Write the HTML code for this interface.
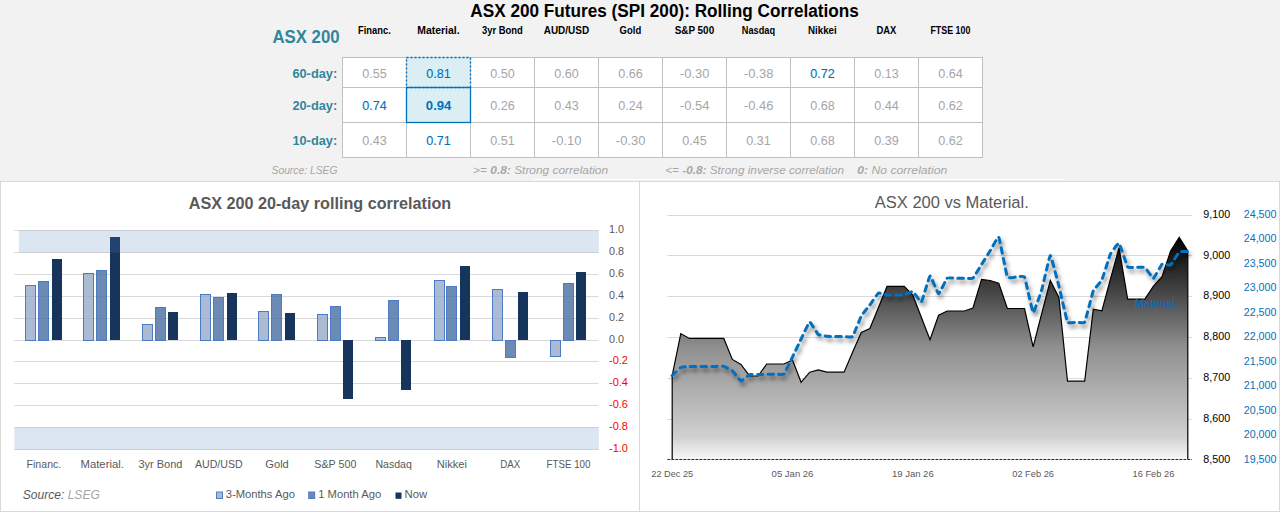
<!DOCTYPE html>
<html><head><meta charset="utf-8"><title>ASX 200 Rolling Correlations</title>
<style>html,body{margin:0;padding:0;background:#fff;width:1280px;height:512px;overflow:hidden;font-family:"Liberation Sans",sans-serif;}</style>
</head><body>
<svg width="1280" height="512" viewBox="0 0 1280 512" style="display:block;font-family:'Liberation Sans', sans-serif"><rect x="0" y="0" width="1280" height="512" fill="#ffffff"/>
<rect x="0" y="0" width="1280" height="181" fill="#f2f2f2"/>
<rect x="534" y="179" width="531" height="1" fill="#ffffff"/>
<text x="470.30" y="16.80" font-size="18.70" fill="#000000" text-anchor="start" font-weight="bold" font-style="normal" textLength="388.50" lengthAdjust="spacingAndGlyphs">ASX 200 Futures (SPI 200): Rolling Correlations</text>
<text x="272.40" y="42.80" font-size="18.55" fill="#31869b" text-anchor="start" font-weight="bold" font-style="normal" textLength="67.20" lengthAdjust="spacingAndGlyphs">ASX 200</text>
<text x="374.40" y="34.00" font-size="10.14" fill="#000000" text-anchor="middle" font-weight="bold" font-style="normal" textLength="32.70" lengthAdjust="spacingAndGlyphs">Financ.</text>
<text x="438.40" y="34.00" font-size="10.14" fill="#000000" text-anchor="middle" font-weight="bold" font-style="normal" textLength="42.40" lengthAdjust="spacingAndGlyphs">Material.</text>
<text x="502.40" y="34.00" font-size="10.14" fill="#000000" text-anchor="middle" font-weight="bold" font-style="normal" textLength="40.90" lengthAdjust="spacingAndGlyphs">3yr Bond</text>
<text x="566.40" y="34.00" font-size="10.14" fill="#000000" text-anchor="middle" font-weight="bold" font-style="normal" textLength="45.40" lengthAdjust="spacingAndGlyphs">AUD/USD</text>
<text x="630.40" y="34.00" font-size="10.14" fill="#000000" text-anchor="middle" font-weight="bold" font-style="normal" textLength="21.60" lengthAdjust="spacingAndGlyphs">Gold</text>
<text x="694.40" y="34.00" font-size="10.14" fill="#000000" text-anchor="middle" font-weight="bold" font-style="normal" textLength="39.50" lengthAdjust="spacingAndGlyphs">S&amp;P 500</text>
<text x="758.40" y="34.00" font-size="10.14" fill="#000000" text-anchor="middle" font-weight="bold" font-style="normal" textLength="33.20" lengthAdjust="spacingAndGlyphs">Nasdaq</text>
<text x="822.40" y="34.00" font-size="10.14" fill="#000000" text-anchor="middle" font-weight="bold" font-style="normal" textLength="28.70" lengthAdjust="spacingAndGlyphs">Nikkei</text>
<text x="886.40" y="34.00" font-size="10.14" fill="#000000" text-anchor="middle" font-weight="bold" font-style="normal" textLength="19.90" lengthAdjust="spacingAndGlyphs">DAX</text>
<text x="950.40" y="34.00" font-size="10.14" fill="#000000" text-anchor="middle" font-weight="bold" font-style="normal" textLength="40.00" lengthAdjust="spacingAndGlyphs">FTSE 100</text>
<text x="337.20" y="77.80" font-size="13.19" fill="#31869b" text-anchor="end" font-weight="bold" font-style="normal" textLength="44.80" lengthAdjust="spacingAndGlyphs">60-day:</text>
<text x="337.20" y="109.80" font-size="13.19" fill="#31869b" text-anchor="end" font-weight="bold" font-style="normal" textLength="44.80" lengthAdjust="spacingAndGlyphs">20-day:</text>
<text x="337.20" y="145.00" font-size="13.19" fill="#31869b" text-anchor="end" font-weight="bold" font-style="normal" textLength="44.80" lengthAdjust="spacingAndGlyphs">10-day:</text>
<rect x="342.5" y="57.5" width="640" height="99.5" fill="#ffffff"/>
<rect x="406.5" y="57.5" width="64" height="30" fill="#daeef3"/>
<rect x="406.5" y="87.5" width="64" height="35" fill="#daeef3"/>
<line x1="342" y1="57.5" x2="983" y2="57.5" stroke="#c0c0c0" stroke-width="1"/>
<line x1="342" y1="87.5" x2="983" y2="87.5" stroke="#c0c0c0" stroke-width="1"/>
<line x1="342" y1="122.5" x2="983" y2="122.5" stroke="#c0c0c0" stroke-width="1"/>
<line x1="342" y1="157.5" x2="983" y2="157.5" stroke="#c0c0c0" stroke-width="1"/>
<line x1="342.5" y1="57" x2="342.5" y2="157.5" stroke="#c0c0c0" stroke-width="1"/>
<line x1="406.5" y1="57" x2="406.5" y2="157.5" stroke="#c0c0c0" stroke-width="1"/>
<line x1="470.5" y1="57" x2="470.5" y2="157.5" stroke="#c0c0c0" stroke-width="1"/>
<line x1="534.5" y1="57" x2="534.5" y2="157.5" stroke="#c0c0c0" stroke-width="1"/>
<line x1="598.5" y1="57" x2="598.5" y2="157.5" stroke="#c0c0c0" stroke-width="1"/>
<line x1="662.5" y1="57" x2="662.5" y2="157.5" stroke="#c0c0c0" stroke-width="1"/>
<line x1="726.5" y1="57" x2="726.5" y2="157.5" stroke="#c0c0c0" stroke-width="1"/>
<line x1="790.5" y1="57" x2="790.5" y2="157.5" stroke="#c0c0c0" stroke-width="1"/>
<line x1="854.5" y1="57" x2="854.5" y2="157.5" stroke="#c0c0c0" stroke-width="1"/>
<line x1="918.5" y1="57" x2="918.5" y2="157.5" stroke="#c0c0c0" stroke-width="1"/>
<line x1="982.5" y1="57" x2="982.5" y2="157.5" stroke="#c0c0c0" stroke-width="1"/>
<rect x="406.5" y="57.5" width="64" height="30" fill="none" stroke="#0070c0" stroke-width="1.4" stroke-dasharray="2 2"/>
<rect x="406.5" y="87.5" width="64" height="35" fill="none" stroke="#0070c0" stroke-width="1.3"/>
<text x="374.60" y="77.90" font-size="12.75" fill="#a6a6a6" text-anchor="middle" font-weight="normal" font-style="normal" textLength="24.50" lengthAdjust="spacingAndGlyphs">0.55</text>
<text x="438.60" y="77.90" font-size="12.75" fill="#0070c0" text-anchor="middle" font-weight="normal" font-style="normal" textLength="24.50" lengthAdjust="spacingAndGlyphs" stroke="#0070c0" stroke-width="0.1">0.81</text>
<text x="502.60" y="77.90" font-size="12.75" fill="#a6a6a6" text-anchor="middle" font-weight="normal" font-style="normal" textLength="24.50" lengthAdjust="spacingAndGlyphs">0.50</text>
<text x="566.60" y="77.90" font-size="12.75" fill="#a6a6a6" text-anchor="middle" font-weight="normal" font-style="normal" textLength="24.50" lengthAdjust="spacingAndGlyphs">0.60</text>
<text x="630.60" y="77.90" font-size="12.75" fill="#a6a6a6" text-anchor="middle" font-weight="normal" font-style="normal" textLength="24.50" lengthAdjust="spacingAndGlyphs">0.66</text>
<text x="694.60" y="77.90" font-size="12.75" fill="#a6a6a6" text-anchor="middle" font-weight="normal" font-style="normal" textLength="29.50" lengthAdjust="spacingAndGlyphs">-0.30</text>
<text x="758.60" y="77.90" font-size="12.75" fill="#a6a6a6" text-anchor="middle" font-weight="normal" font-style="normal" textLength="29.50" lengthAdjust="spacingAndGlyphs">-0.38</text>
<text x="822.60" y="77.90" font-size="12.75" fill="#0070c0" text-anchor="middle" font-weight="normal" font-style="normal" textLength="24.50" lengthAdjust="spacingAndGlyphs" stroke="#0070c0" stroke-width="0.1">0.72</text>
<text x="886.60" y="77.90" font-size="12.75" fill="#a6a6a6" text-anchor="middle" font-weight="normal" font-style="normal" textLength="24.50" lengthAdjust="spacingAndGlyphs">0.13</text>
<text x="950.60" y="77.90" font-size="12.75" fill="#a6a6a6" text-anchor="middle" font-weight="normal" font-style="normal" textLength="24.50" lengthAdjust="spacingAndGlyphs">0.64</text>
<text x="374.60" y="109.90" font-size="12.75" fill="#0070c0" text-anchor="middle" font-weight="normal" font-style="normal" textLength="24.50" lengthAdjust="spacingAndGlyphs" stroke="#0070c0" stroke-width="0.1">0.74</text>
<text x="438.60" y="109.90" font-size="12.75" fill="#0070c0" text-anchor="middle" font-weight="bold" font-style="normal" textLength="25.50" lengthAdjust="spacingAndGlyphs">0.94</text>
<text x="502.60" y="109.90" font-size="12.75" fill="#a6a6a6" text-anchor="middle" font-weight="normal" font-style="normal" textLength="24.50" lengthAdjust="spacingAndGlyphs">0.26</text>
<text x="566.60" y="109.90" font-size="12.75" fill="#a6a6a6" text-anchor="middle" font-weight="normal" font-style="normal" textLength="24.50" lengthAdjust="spacingAndGlyphs">0.43</text>
<text x="630.60" y="109.90" font-size="12.75" fill="#a6a6a6" text-anchor="middle" font-weight="normal" font-style="normal" textLength="24.50" lengthAdjust="spacingAndGlyphs">0.24</text>
<text x="694.60" y="109.90" font-size="12.75" fill="#a6a6a6" text-anchor="middle" font-weight="normal" font-style="normal" textLength="29.50" lengthAdjust="spacingAndGlyphs">-0.54</text>
<text x="758.60" y="109.90" font-size="12.75" fill="#a6a6a6" text-anchor="middle" font-weight="normal" font-style="normal" textLength="29.50" lengthAdjust="spacingAndGlyphs">-0.46</text>
<text x="822.60" y="109.90" font-size="12.75" fill="#a6a6a6" text-anchor="middle" font-weight="normal" font-style="normal" textLength="24.50" lengthAdjust="spacingAndGlyphs">0.68</text>
<text x="886.60" y="109.90" font-size="12.75" fill="#a6a6a6" text-anchor="middle" font-weight="normal" font-style="normal" textLength="24.50" lengthAdjust="spacingAndGlyphs">0.44</text>
<text x="950.60" y="109.90" font-size="12.75" fill="#a6a6a6" text-anchor="middle" font-weight="normal" font-style="normal" textLength="24.50" lengthAdjust="spacingAndGlyphs">0.62</text>
<text x="374.60" y="144.60" font-size="12.75" fill="#a6a6a6" text-anchor="middle" font-weight="normal" font-style="normal" textLength="24.50" lengthAdjust="spacingAndGlyphs">0.43</text>
<text x="438.60" y="144.60" font-size="12.75" fill="#0070c0" text-anchor="middle" font-weight="normal" font-style="normal" textLength="24.50" lengthAdjust="spacingAndGlyphs" stroke="#0070c0" stroke-width="0.1">0.71</text>
<text x="502.60" y="144.60" font-size="12.75" fill="#a6a6a6" text-anchor="middle" font-weight="normal" font-style="normal" textLength="24.50" lengthAdjust="spacingAndGlyphs">0.51</text>
<text x="566.60" y="144.60" font-size="12.75" fill="#a6a6a6" text-anchor="middle" font-weight="normal" font-style="normal" textLength="29.50" lengthAdjust="spacingAndGlyphs">-0.10</text>
<text x="630.60" y="144.60" font-size="12.75" fill="#a6a6a6" text-anchor="middle" font-weight="normal" font-style="normal" textLength="29.50" lengthAdjust="spacingAndGlyphs">-0.30</text>
<text x="694.60" y="144.60" font-size="12.75" fill="#a6a6a6" text-anchor="middle" font-weight="normal" font-style="normal" textLength="24.50" lengthAdjust="spacingAndGlyphs">0.45</text>
<text x="758.60" y="144.60" font-size="12.75" fill="#a6a6a6" text-anchor="middle" font-weight="normal" font-style="normal" textLength="24.50" lengthAdjust="spacingAndGlyphs">0.31</text>
<text x="822.60" y="144.60" font-size="12.75" fill="#a6a6a6" text-anchor="middle" font-weight="normal" font-style="normal" textLength="24.50" lengthAdjust="spacingAndGlyphs">0.68</text>
<text x="886.60" y="144.60" font-size="12.75" fill="#a6a6a6" text-anchor="middle" font-weight="normal" font-style="normal" textLength="24.50" lengthAdjust="spacingAndGlyphs">0.39</text>
<text x="950.60" y="144.60" font-size="12.75" fill="#a6a6a6" text-anchor="middle" font-weight="normal" font-style="normal" textLength="24.50" lengthAdjust="spacingAndGlyphs">0.62</text>
<text x="271.5" y="174.2" font-size="10.29" fill="#a6a6a6" font-style="italic" textLength="66" lengthAdjust="spacingAndGlyphs">Source: LSEG</text>
<text x="473.1" y="174.2" font-size="10.29" fill="#a6a6a6" font-style="italic" textLength="135" lengthAdjust="spacingAndGlyphs">&gt;= <tspan font-weight="bold">0.8:</tspan>  Strong correlation</text>
<text x="665.2" y="174.2" font-size="10.29" fill="#a6a6a6" font-style="italic" textLength="178.8" lengthAdjust="spacingAndGlyphs">&lt;= <tspan font-weight="bold">-0.8:</tspan>  Strong inverse correlation</text>
<text x="857.25" y="174.2" font-size="10.29" fill="#a6a6a6" font-style="italic" textLength="90" lengthAdjust="spacingAndGlyphs"><tspan font-weight="bold">0:</tspan>  No correlation</text>
<line x1="0" y1="181.5" x2="1280" y2="181.5" stroke="#d9d9d9" stroke-width="1"/>
<line x1="0.5" y1="181" x2="0.5" y2="512" stroke="#d9d9d9" stroke-width="1"/>
<line x1="639.5" y1="181" x2="639.5" y2="512" stroke="#d9d9d9" stroke-width="1"/>
<line x1="1279.5" y1="181" x2="1279.5" y2="512" stroke="#d9d9d9" stroke-width="1"/>
<line x1="0" y1="511.5" x2="1280" y2="511.5" stroke="#d9d9d9" stroke-width="1"/>
<text x="188.75" y="208.60" font-size="16.81" fill="#595959" text-anchor="start" font-weight="bold" font-style="normal" textLength="262.50" lengthAdjust="spacingAndGlyphs">ASX 200 20-day rolling correlation</text>
<line x1="14.2" y1="230.50" x2="598.6" y2="230.50" stroke="#d9d9d9" stroke-width="1"/>
<line x1="14.2" y1="252.50" x2="598.6" y2="252.50" stroke="#d9d9d9" stroke-width="1"/>
<line x1="14.2" y1="274.50" x2="598.6" y2="274.50" stroke="#d9d9d9" stroke-width="1"/>
<line x1="14.2" y1="296.50" x2="598.6" y2="296.50" stroke="#d9d9d9" stroke-width="1"/>
<line x1="14.2" y1="318.50" x2="598.6" y2="318.50" stroke="#d9d9d9" stroke-width="1"/>
<line x1="14.2" y1="340.50" x2="598.6" y2="340.50" stroke="#d9d9d9" stroke-width="1"/>
<line x1="14.2" y1="361.50" x2="598.6" y2="361.50" stroke="#d9d9d9" stroke-width="1"/>
<line x1="14.2" y1="383.50" x2="598.6" y2="383.50" stroke="#d9d9d9" stroke-width="1"/>
<line x1="14.2" y1="405.50" x2="598.6" y2="405.50" stroke="#d9d9d9" stroke-width="1"/>
<line x1="14.2" y1="427.50" x2="598.6" y2="427.50" stroke="#d9d9d9" stroke-width="1"/>
<line x1="14.2" y1="449.50" x2="598.6" y2="449.50" stroke="#d9d9d9" stroke-width="1"/>
<rect x="25.50" y="285.50" width="10.00" height="55.00" fill="#8ea4c4" fill-opacity="0.75" stroke="#4a7bc4" stroke-width="1"/>
<rect x="38.50" y="281.50" width="10.00" height="59.00" fill="#466da1" fill-opacity="0.80" stroke="#4a7bc4" stroke-width="1"/>
<rect x="52.00" y="259.00" width="10.00" height="81.00" fill="#17345c" fill-opacity="1.00"/>
<rect x="83.50" y="273.50" width="10.00" height="67.00" fill="#8ea4c4" fill-opacity="0.75" stroke="#4a7bc4" stroke-width="1"/>
<rect x="96.50" y="270.50" width="10.00" height="70.00" fill="#466da1" fill-opacity="0.80" stroke="#4a7bc4" stroke-width="1"/>
<rect x="110.00" y="237.00" width="10.00" height="103.00" fill="#17345c" fill-opacity="1.00"/>
<rect x="142.50" y="324.50" width="10.00" height="16.00" fill="#8ea4c4" fill-opacity="0.75" stroke="#4a7bc4" stroke-width="1"/>
<rect x="155.50" y="307.50" width="10.00" height="33.00" fill="#466da1" fill-opacity="0.80" stroke="#4a7bc4" stroke-width="1"/>
<rect x="168.00" y="312.00" width="10.00" height="28.00" fill="#17345c" fill-opacity="1.00"/>
<rect x="200.50" y="294.50" width="10.00" height="46.00" fill="#8ea4c4" fill-opacity="0.75" stroke="#4a7bc4" stroke-width="1"/>
<rect x="213.50" y="297.50" width="10.00" height="43.00" fill="#466da1" fill-opacity="0.80" stroke="#4a7bc4" stroke-width="1"/>
<rect x="227.00" y="293.00" width="10.00" height="47.00" fill="#17345c" fill-opacity="1.00"/>
<rect x="258.50" y="311.50" width="10.00" height="29.00" fill="#8ea4c4" fill-opacity="0.75" stroke="#4a7bc4" stroke-width="1"/>
<rect x="271.50" y="294.50" width="10.00" height="46.00" fill="#466da1" fill-opacity="0.80" stroke="#4a7bc4" stroke-width="1"/>
<rect x="285.00" y="313.00" width="10.00" height="27.00" fill="#17345c" fill-opacity="1.00"/>
<rect x="317.50" y="314.50" width="10.00" height="26.00" fill="#8ea4c4" fill-opacity="0.75" stroke="#4a7bc4" stroke-width="1"/>
<rect x="330.50" y="306.50" width="10.00" height="34.00" fill="#466da1" fill-opacity="0.80" stroke="#4a7bc4" stroke-width="1"/>
<rect x="343.00" y="340.00" width="10.00" height="59.00" fill="#17345c" fill-opacity="1.00"/>
<rect x="375.50" y="337.50" width="10.00" height="3.00" fill="#8ea4c4" fill-opacity="0.75" stroke="#4a7bc4" stroke-width="1"/>
<rect x="388.50" y="300.50" width="10.00" height="40.00" fill="#466da1" fill-opacity="0.80" stroke="#4a7bc4" stroke-width="1"/>
<rect x="401.00" y="340.00" width="10.00" height="50.00" fill="#17345c" fill-opacity="1.00"/>
<rect x="434.50" y="280.50" width="10.00" height="60.00" fill="#8ea4c4" fill-opacity="0.75" stroke="#4a7bc4" stroke-width="1"/>
<rect x="446.50" y="286.50" width="10.00" height="54.00" fill="#466da1" fill-opacity="0.80" stroke="#4a7bc4" stroke-width="1"/>
<rect x="460.00" y="266.00" width="10.00" height="74.00" fill="#17345c" fill-opacity="1.00"/>
<rect x="492.50" y="289.50" width="10.00" height="51.00" fill="#8ea4c4" fill-opacity="0.75" stroke="#4a7bc4" stroke-width="1"/>
<rect x="505.50" y="340.50" width="10.00" height="17.00" fill="#466da1" fill-opacity="0.80" stroke="#4a7bc4" stroke-width="1"/>
<rect x="518.00" y="292.00" width="10.00" height="48.00" fill="#17345c" fill-opacity="1.00"/>
<rect x="550.50" y="340.50" width="10.00" height="16.00" fill="#8ea4c4" fill-opacity="0.75" stroke="#4a7bc4" stroke-width="1"/>
<rect x="563.50" y="283.50" width="10.00" height="57.00" fill="#466da1" fill-opacity="0.80" stroke="#4a7bc4" stroke-width="1"/>
<rect x="576.00" y="272.00" width="10.00" height="68.00" fill="#17345c" fill-opacity="1.00"/>
<rect x="18.9" y="230.5" width="579.9" height="22" fill="#5082be" fill-opacity="0.2"/>
<rect x="14.4" y="427.5" width="584.4" height="22" fill="#5082be" fill-opacity="0.2"/>
<text x="609.00" y="233.00" font-size="11.30" fill="#595959" text-anchor="start" font-weight="normal" font-style="normal" textLength="15.00" lengthAdjust="spacingAndGlyphs">1.0</text>
<text x="609.00" y="255.00" font-size="11.30" fill="#595959" text-anchor="start" font-weight="normal" font-style="normal" textLength="15.00" lengthAdjust="spacingAndGlyphs">0.8</text>
<text x="609.00" y="277.00" font-size="11.30" fill="#595959" text-anchor="start" font-weight="normal" font-style="normal" textLength="15.00" lengthAdjust="spacingAndGlyphs">0.6</text>
<text x="609.00" y="299.00" font-size="11.30" fill="#595959" text-anchor="start" font-weight="normal" font-style="normal" textLength="15.00" lengthAdjust="spacingAndGlyphs">0.4</text>
<text x="609.00" y="321.00" font-size="11.30" fill="#595959" text-anchor="start" font-weight="normal" font-style="normal" textLength="15.00" lengthAdjust="spacingAndGlyphs">0.2</text>
<text x="609.00" y="343.00" font-size="11.30" fill="#595959" text-anchor="start" font-weight="normal" font-style="normal" textLength="15.00" lengthAdjust="spacingAndGlyphs">0.0</text>
<text x="609.00" y="364.00" font-size="11.30" fill="#ff0000" text-anchor="start" font-weight="normal" font-style="normal" textLength="19.00" lengthAdjust="spacingAndGlyphs">-0.2</text>
<text x="609.00" y="386.00" font-size="11.30" fill="#ff0000" text-anchor="start" font-weight="normal" font-style="normal" textLength="19.00" lengthAdjust="spacingAndGlyphs">-0.4</text>
<text x="609.00" y="408.00" font-size="11.30" fill="#ff0000" text-anchor="start" font-weight="normal" font-style="normal" textLength="19.00" lengthAdjust="spacingAndGlyphs">-0.6</text>
<text x="609.00" y="430.00" font-size="11.30" fill="#ff0000" text-anchor="start" font-weight="normal" font-style="normal" textLength="19.00" lengthAdjust="spacingAndGlyphs">-0.8</text>
<text x="609.00" y="452.00" font-size="11.30" fill="#ff0000" text-anchor="start" font-weight="normal" font-style="normal" textLength="19.00" lengthAdjust="spacingAndGlyphs">-1.0</text>
<text x="43.90" y="467.75" font-size="11.01" fill="#595959" text-anchor="middle" font-weight="normal" font-style="normal" textLength="34.70" lengthAdjust="spacingAndGlyphs">Financ.</text>
<text x="102.19" y="467.75" font-size="11.01" fill="#595959" text-anchor="middle" font-weight="normal" font-style="normal" textLength="43.30" lengthAdjust="spacingAndGlyphs">Material.</text>
<text x="160.48" y="467.75" font-size="11.01" fill="#595959" text-anchor="middle" font-weight="normal" font-style="normal" textLength="44.00" lengthAdjust="spacingAndGlyphs">3yr Bond</text>
<text x="218.77" y="467.75" font-size="11.01" fill="#595959" text-anchor="middle" font-weight="normal" font-style="normal" textLength="47.70" lengthAdjust="spacingAndGlyphs">AUD/USD</text>
<text x="277.06" y="467.75" font-size="11.01" fill="#595959" text-anchor="middle" font-weight="normal" font-style="normal" textLength="23.50" lengthAdjust="spacingAndGlyphs">Gold</text>
<text x="335.35" y="467.75" font-size="11.01" fill="#595959" text-anchor="middle" font-weight="normal" font-style="normal" textLength="42.10" lengthAdjust="spacingAndGlyphs">S&amp;P 500</text>
<text x="393.64" y="467.75" font-size="11.01" fill="#595959" text-anchor="middle" font-weight="normal" font-style="normal" textLength="36.40" lengthAdjust="spacingAndGlyphs">Nasdaq</text>
<text x="451.93" y="467.75" font-size="11.01" fill="#595959" text-anchor="middle" font-weight="normal" font-style="normal" textLength="30.10" lengthAdjust="spacingAndGlyphs">Nikkei</text>
<text x="510.22" y="467.75" font-size="11.01" fill="#595959" text-anchor="middle" font-weight="normal" font-style="normal" textLength="20.00" lengthAdjust="spacingAndGlyphs">DAX</text>
<text x="568.51" y="467.75" font-size="11.01" fill="#595959" text-anchor="middle" font-weight="normal" font-style="normal" textLength="43.90" lengthAdjust="spacingAndGlyphs">FTSE 100</text>
<rect x="216.5" y="492" width="6" height="6.5" fill="#a9bad2" stroke="#4f7fc0" stroke-width="1"/>
<text x="225.70" y="497.80" font-size="10.87" fill="#595959" text-anchor="start" font-weight="normal" font-style="normal" textLength="69.20" lengthAdjust="spacingAndGlyphs">3-Months Ago</text>
<rect x="308.7" y="492" width="6" height="6.5" fill="#6b8ab3" stroke="#4f7fc0" stroke-width="1"/>
<text x="318.20" y="497.80" font-size="10.87" fill="#595959" text-anchor="start" font-weight="normal" font-style="normal" textLength="63.00" lengthAdjust="spacingAndGlyphs">1 Month Ago</text>
<rect x="395.5" y="492.5" width="6" height="6.3" fill="#17345c"/>
<text x="404.50" y="497.80" font-size="10.87" fill="#595959" text-anchor="start" font-weight="normal" font-style="normal" textLength="22.60" lengthAdjust="spacingAndGlyphs">Now</text>
<text x="22.8" y="498.9" font-size="13.19" font-style="italic" fill="#595959" textLength="77" lengthAdjust="spacingAndGlyphs">Source: <tspan fill="#a6a6a6">LSEG</tspan></text>
<text x="874.80" y="207.50" font-size="16.30" fill="#595959" text-anchor="start" font-weight="normal" font-style="normal" textLength="154.00" lengthAdjust="spacingAndGlyphs">ASX 200 vs Material.</text>
<line x1="667.5" y1="215.50" x2="1192" y2="215.50" stroke="#d9d9d9" stroke-width="1"/>
<line x1="667.5" y1="255.50" x2="1192" y2="255.50" stroke="#d9d9d9" stroke-width="1"/>
<line x1="667.5" y1="296.50" x2="1192" y2="296.50" stroke="#d9d9d9" stroke-width="1"/>
<line x1="667.5" y1="337.50" x2="1192" y2="337.50" stroke="#d9d9d9" stroke-width="1"/>
<line x1="667.5" y1="378.50" x2="1192" y2="378.50" stroke="#d9d9d9" stroke-width="1"/>
<line x1="667.5" y1="419.50" x2="1192" y2="419.50" stroke="#d9d9d9" stroke-width="1"/>
<defs><linearGradient id="ag" x1="0" y1="237" x2="0" y2="459" gradientUnits="userSpaceOnUse"><stop offset="0" stop-color="#000000"/><stop offset="0.25" stop-color="#464646"/><stop offset="0.5" stop-color="#909090"/><stop offset="0.9" stop-color="#d0d0d0"/><stop offset="1" stop-color="#f8f8f8"/></linearGradient><filter id="sh" x="-10%" y="-10%" width="120%" height="130%"><feGaussianBlur stdDeviation="2.2"/></filter></defs>
<path d="M672.20,459.00 L672.20,375.50 L680.79,333.60 L689.39,338.40 L697.98,338.40 L706.57,338.40 L715.17,338.40 L723.76,338.40 L732.35,359.40 L740.95,364.50 L749.54,375.90 L758.13,376.00 L766.73,364.00 L775.32,364.00 L783.91,364.00 L792.51,360.00 L801.10,382.30 L809.69,372.20 L818.29,369.90 L826.88,372.20 L835.47,372.20 L844.07,372.20 L852.66,352.00 L861.25,332.50 L869.85,328.50 L878.44,307.50 L887.03,286.40 L895.63,286.40 L904.22,286.40 L912.81,295.20 L921.41,317.50 L930.00,339.80 L938.59,315.20 L947.19,311.00 L955.78,311.00 L964.37,311.00 L972.97,308.00 L981.56,279.30 L990.15,280.50 L998.75,283.20 L1007.34,308.50 L1015.93,308.50 L1024.53,308.50 L1033.12,346.80 L1041.71,313.50 L1050.31,280.50 L1058.90,297.50 L1067.49,381.20 L1076.09,381.20 L1084.68,381.20 L1093.27,309.20 L1101.87,310.80 L1110.46,279.00 L1119.05,247.60 L1127.65,299.10 L1136.24,299.10 L1144.83,299.10 L1153.43,286.20 L1162.02,276.60 L1170.61,251.10 L1179.21,237.40 L1187.80,251.00 L1187.80,459.00 Z" fill="url(#ag)" stroke="none"/>
<path d="M672.20,459.00 L672.20,375.50 L680.79,333.60 L689.39,338.40 L697.98,338.40 L706.57,338.40 L715.17,338.40 L723.76,338.40 L732.35,359.40 L740.95,364.50 L749.54,375.90 L758.13,376.00 L766.73,364.00 L775.32,364.00 L783.91,364.00 L792.51,360.00 L801.10,382.30 L809.69,372.20 L818.29,369.90 L826.88,372.20 L835.47,372.20 L844.07,372.20 L852.66,352.00 L861.25,332.50 L869.85,328.50 L878.44,307.50 L887.03,286.40 L895.63,286.40 L904.22,286.40 L912.81,295.20 L921.41,317.50 L930.00,339.80 L938.59,315.20 L947.19,311.00 L955.78,311.00 L964.37,311.00 L972.97,308.00 L981.56,279.30 L990.15,280.50 L998.75,283.20 L1007.34,308.50 L1015.93,308.50 L1024.53,308.50 L1033.12,346.80 L1041.71,313.50 L1050.31,280.50 L1058.90,297.50 L1067.49,381.20 L1076.09,381.20 L1084.68,381.20 L1093.27,309.20 L1101.87,310.80 L1110.46,279.00 L1119.05,247.60 L1127.65,299.10 L1136.24,299.10 L1144.83,299.10 L1153.43,286.20 L1162.02,276.60 L1170.61,251.10 L1179.21,237.40 L1187.80,251.00 L1187.80,459.00" fill="none" stroke="#000000" stroke-width="1.2" stroke-linejoin="miter"/>
<line x1="667.5" y1="459.5" x2="1192" y2="459.5" stroke="#c0c0c0" stroke-width="1"/>
<line x1="667.5" y1="459.5" x2="1192" y2="459.5" stroke="#2a2a2a" stroke-width="1" stroke-dasharray="2.5 1.5"/>
<path d="M672.20,375.50 C672.54,375.18 680.11,367.86 680.79,367.50 C681.48,367.14 688.70,366.44 689.39,366.40 C690.07,366.36 697.29,366.40 697.98,366.40 C698.67,366.40 705.89,366.40 706.57,366.40 C707.26,366.40 714.48,366.40 715.17,366.40 C715.85,366.40 723.07,366.22 723.76,366.40 C724.45,366.58 731.67,370.22 732.35,370.80 C733.04,371.38 740.26,380.84 740.95,381.00 C741.63,381.16 748.85,374.96 749.54,374.70 C750.23,374.44 757.45,374.52 758.13,374.50 C758.82,374.48 766.04,374.31 766.73,374.30 C767.41,374.29 774.63,374.21 775.32,374.20 C776.01,374.19 783.23,374.79 783.91,374.10 C784.60,373.41 791.82,358.40 792.51,357.00 C793.19,355.60 800.41,340.40 801.10,339.00 C801.79,337.60 809.01,322.18 809.69,322.00 C810.38,321.82 817.60,333.93 818.29,334.50 C818.97,335.07 826.19,336.12 826.88,336.20 C827.57,336.28 834.79,336.58 835.47,336.60 C836.16,336.62 843.38,336.60 844.07,336.60 C844.75,336.60 851.97,337.42 852.66,336.60 C853.35,335.78 860.57,317.26 861.25,316.00 C861.94,314.74 869.16,305.92 869.85,305.00 C870.53,304.08 877.75,293.40 878.44,293.00 C879.13,292.60 886.35,294.92 887.03,295.00 C887.72,295.08 894.94,295.00 895.63,295.00 C896.31,295.00 903.53,295.14 904.22,295.00 C904.91,294.86 912.13,291.22 912.81,291.50 C913.50,291.78 920.72,302.62 921.41,302.00 C922.09,301.38 929.31,276.33 930.00,276.00 C930.69,275.67 937.91,293.71 938.59,293.80 C939.28,293.89 946.50,278.82 947.19,278.20 C947.87,277.58 955.09,278.20 955.78,278.20 C956.47,278.20 963.69,278.20 964.37,278.20 C965.06,278.20 972.28,278.75 972.97,278.20 C973.65,277.65 980.87,265.60 981.56,264.50 C982.25,263.40 989.47,251.90 990.15,250.80 C990.84,249.70 998.06,236.05 998.75,237.10 C999.43,238.15 1006.65,275.40 1007.34,277.00 C1008.03,278.60 1015.25,277.00 1015.93,277.00 C1016.62,277.00 1023.84,275.58 1024.53,277.00 C1025.21,278.42 1032.43,311.98 1033.12,312.50 C1033.81,313.02 1041.03,292.28 1041.71,290.00 C1042.40,287.72 1049.62,255.56 1050.31,255.40 C1050.99,255.24 1058.21,283.33 1058.90,286.00 C1059.59,288.67 1066.81,320.75 1067.49,322.20 C1068.18,323.65 1075.40,322.20 1076.09,322.20 C1076.77,322.20 1083.99,323.45 1084.68,322.20 C1085.37,320.95 1092.59,292.69 1093.27,291.00 C1093.96,289.31 1101.18,281.48 1101.87,280.00 C1102.55,278.52 1109.77,255.47 1110.46,254.00 C1111.15,252.53 1118.37,242.68 1119.05,243.20 C1119.74,243.72 1126.96,266.03 1127.65,267.00 C1128.33,267.97 1135.55,267.38 1136.24,267.40 C1136.93,267.42 1144.15,266.96 1144.83,267.40 C1145.52,267.84 1152.74,278.42 1153.43,278.30 C1154.11,278.18 1161.33,264.83 1162.02,264.30 C1162.71,263.77 1169.93,265.49 1170.61,265.00 C1171.30,264.51 1178.52,252.54 1179.21,252.00 C1179.89,251.46 1187.46,251.42 1187.80,251.40" fill="none" stroke="#000000" stroke-opacity="0.5" stroke-width="3" stroke-dasharray="5.4 5.3" stroke-linecap="round" transform="translate(2,3.5)" filter="url(#sh)"/>
<path d="M672.20,375.50 C672.54,375.18 680.11,367.86 680.79,367.50 C681.48,367.14 688.70,366.44 689.39,366.40 C690.07,366.36 697.29,366.40 697.98,366.40 C698.67,366.40 705.89,366.40 706.57,366.40 C707.26,366.40 714.48,366.40 715.17,366.40 C715.85,366.40 723.07,366.22 723.76,366.40 C724.45,366.58 731.67,370.22 732.35,370.80 C733.04,371.38 740.26,380.84 740.95,381.00 C741.63,381.16 748.85,374.96 749.54,374.70 C750.23,374.44 757.45,374.52 758.13,374.50 C758.82,374.48 766.04,374.31 766.73,374.30 C767.41,374.29 774.63,374.21 775.32,374.20 C776.01,374.19 783.23,374.79 783.91,374.10 C784.60,373.41 791.82,358.40 792.51,357.00 C793.19,355.60 800.41,340.40 801.10,339.00 C801.79,337.60 809.01,322.18 809.69,322.00 C810.38,321.82 817.60,333.93 818.29,334.50 C818.97,335.07 826.19,336.12 826.88,336.20 C827.57,336.28 834.79,336.58 835.47,336.60 C836.16,336.62 843.38,336.60 844.07,336.60 C844.75,336.60 851.97,337.42 852.66,336.60 C853.35,335.78 860.57,317.26 861.25,316.00 C861.94,314.74 869.16,305.92 869.85,305.00 C870.53,304.08 877.75,293.40 878.44,293.00 C879.13,292.60 886.35,294.92 887.03,295.00 C887.72,295.08 894.94,295.00 895.63,295.00 C896.31,295.00 903.53,295.14 904.22,295.00 C904.91,294.86 912.13,291.22 912.81,291.50 C913.50,291.78 920.72,302.62 921.41,302.00 C922.09,301.38 929.31,276.33 930.00,276.00 C930.69,275.67 937.91,293.71 938.59,293.80 C939.28,293.89 946.50,278.82 947.19,278.20 C947.87,277.58 955.09,278.20 955.78,278.20 C956.47,278.20 963.69,278.20 964.37,278.20 C965.06,278.20 972.28,278.75 972.97,278.20 C973.65,277.65 980.87,265.60 981.56,264.50 C982.25,263.40 989.47,251.90 990.15,250.80 C990.84,249.70 998.06,236.05 998.75,237.10 C999.43,238.15 1006.65,275.40 1007.34,277.00 C1008.03,278.60 1015.25,277.00 1015.93,277.00 C1016.62,277.00 1023.84,275.58 1024.53,277.00 C1025.21,278.42 1032.43,311.98 1033.12,312.50 C1033.81,313.02 1041.03,292.28 1041.71,290.00 C1042.40,287.72 1049.62,255.56 1050.31,255.40 C1050.99,255.24 1058.21,283.33 1058.90,286.00 C1059.59,288.67 1066.81,320.75 1067.49,322.20 C1068.18,323.65 1075.40,322.20 1076.09,322.20 C1076.77,322.20 1083.99,323.45 1084.68,322.20 C1085.37,320.95 1092.59,292.69 1093.27,291.00 C1093.96,289.31 1101.18,281.48 1101.87,280.00 C1102.55,278.52 1109.77,255.47 1110.46,254.00 C1111.15,252.53 1118.37,242.68 1119.05,243.20 C1119.74,243.72 1126.96,266.03 1127.65,267.00 C1128.33,267.97 1135.55,267.38 1136.24,267.40 C1136.93,267.42 1144.15,266.96 1144.83,267.40 C1145.52,267.84 1152.74,278.42 1153.43,278.30 C1154.11,278.18 1161.33,264.83 1162.02,264.30 C1162.71,263.77 1169.93,265.49 1170.61,265.00 C1171.30,264.51 1178.52,252.54 1179.21,252.00 C1179.89,251.46 1187.46,251.42 1187.80,251.40" fill="none" stroke="#0070c0" stroke-width="3" stroke-dasharray="5.4 5.3" stroke-linecap="round"/>
<text x="1134.90" y="306.80" font-size="10.72" fill="#0070c0" text-anchor="start" font-weight="normal" font-style="normal" textLength="43.00" lengthAdjust="spacingAndGlyphs" stroke="#0070c0" stroke-width="0.15">Material.</text>
<text x="1203.30" y="217.70" font-size="10.72" fill="#000000" text-anchor="start" font-weight="normal" font-style="normal" textLength="26.80" lengthAdjust="spacingAndGlyphs">9,100</text>
<text x="1203.30" y="258.55" font-size="10.72" fill="#000000" text-anchor="start" font-weight="normal" font-style="normal" textLength="26.80" lengthAdjust="spacingAndGlyphs">9,000</text>
<text x="1203.30" y="299.40" font-size="10.72" fill="#000000" text-anchor="start" font-weight="normal" font-style="normal" textLength="26.80" lengthAdjust="spacingAndGlyphs">8,900</text>
<text x="1203.30" y="340.25" font-size="10.72" fill="#000000" text-anchor="start" font-weight="normal" font-style="normal" textLength="26.80" lengthAdjust="spacingAndGlyphs">8,800</text>
<text x="1203.30" y="381.10" font-size="10.72" fill="#000000" text-anchor="start" font-weight="normal" font-style="normal" textLength="26.80" lengthAdjust="spacingAndGlyphs">8,700</text>
<text x="1203.30" y="421.95" font-size="10.72" fill="#000000" text-anchor="start" font-weight="normal" font-style="normal" textLength="26.80" lengthAdjust="spacingAndGlyphs">8,600</text>
<text x="1203.30" y="462.80" font-size="10.72" fill="#000000" text-anchor="start" font-weight="normal" font-style="normal" textLength="26.80" lengthAdjust="spacingAndGlyphs">8,500</text>
<text x="1243.80" y="217.70" font-size="10.72" fill="#0070c0" text-anchor="start" font-weight="normal" font-style="normal" textLength="32.60" lengthAdjust="spacingAndGlyphs">24,500</text>
<text x="1243.80" y="242.21" font-size="10.72" fill="#0070c0" text-anchor="start" font-weight="normal" font-style="normal" textLength="32.60" lengthAdjust="spacingAndGlyphs">24,000</text>
<text x="1243.80" y="266.72" font-size="10.72" fill="#0070c0" text-anchor="start" font-weight="normal" font-style="normal" textLength="32.60" lengthAdjust="spacingAndGlyphs">23,500</text>
<text x="1243.80" y="291.23" font-size="10.72" fill="#0070c0" text-anchor="start" font-weight="normal" font-style="normal" textLength="32.60" lengthAdjust="spacingAndGlyphs">23,000</text>
<text x="1243.80" y="315.74" font-size="10.72" fill="#0070c0" text-anchor="start" font-weight="normal" font-style="normal" textLength="32.60" lengthAdjust="spacingAndGlyphs">22,500</text>
<text x="1243.80" y="340.25" font-size="10.72" fill="#0070c0" text-anchor="start" font-weight="normal" font-style="normal" textLength="32.60" lengthAdjust="spacingAndGlyphs">22,000</text>
<text x="1243.80" y="364.76" font-size="10.72" fill="#0070c0" text-anchor="start" font-weight="normal" font-style="normal" textLength="32.60" lengthAdjust="spacingAndGlyphs">21,500</text>
<text x="1243.80" y="389.27" font-size="10.72" fill="#0070c0" text-anchor="start" font-weight="normal" font-style="normal" textLength="32.60" lengthAdjust="spacingAndGlyphs">21,000</text>
<text x="1243.80" y="413.78" font-size="10.72" fill="#0070c0" text-anchor="start" font-weight="normal" font-style="normal" textLength="32.60" lengthAdjust="spacingAndGlyphs">20,500</text>
<text x="1243.80" y="438.29" font-size="10.72" fill="#0070c0" text-anchor="start" font-weight="normal" font-style="normal" textLength="32.60" lengthAdjust="spacingAndGlyphs">20,000</text>
<text x="1243.80" y="462.80" font-size="10.72" fill="#0070c0" text-anchor="start" font-weight="normal" font-style="normal" textLength="32.60" lengthAdjust="spacingAndGlyphs">19,500</text>
<text x="672.20" y="477.10" font-size="9.86" fill="#595959" text-anchor="middle" font-weight="normal" font-style="normal" textLength="41.80" lengthAdjust="spacingAndGlyphs">22 Dec 25</text>
<text x="792.51" y="477.10" font-size="9.86" fill="#595959" text-anchor="middle" font-weight="normal" font-style="normal" textLength="41.80" lengthAdjust="spacingAndGlyphs">05 Jan 26</text>
<text x="912.81" y="477.10" font-size="9.86" fill="#595959" text-anchor="middle" font-weight="normal" font-style="normal" textLength="41.80" lengthAdjust="spacingAndGlyphs">19 Jan 26</text>
<text x="1033.12" y="477.10" font-size="9.86" fill="#595959" text-anchor="middle" font-weight="normal" font-style="normal" textLength="41.80" lengthAdjust="spacingAndGlyphs">02 Feb 26</text>
<text x="1153.43" y="477.10" font-size="9.86" fill="#595959" text-anchor="middle" font-weight="normal" font-style="normal" textLength="41.80" lengthAdjust="spacingAndGlyphs">16 Feb 26</text></svg>
</body></html>
